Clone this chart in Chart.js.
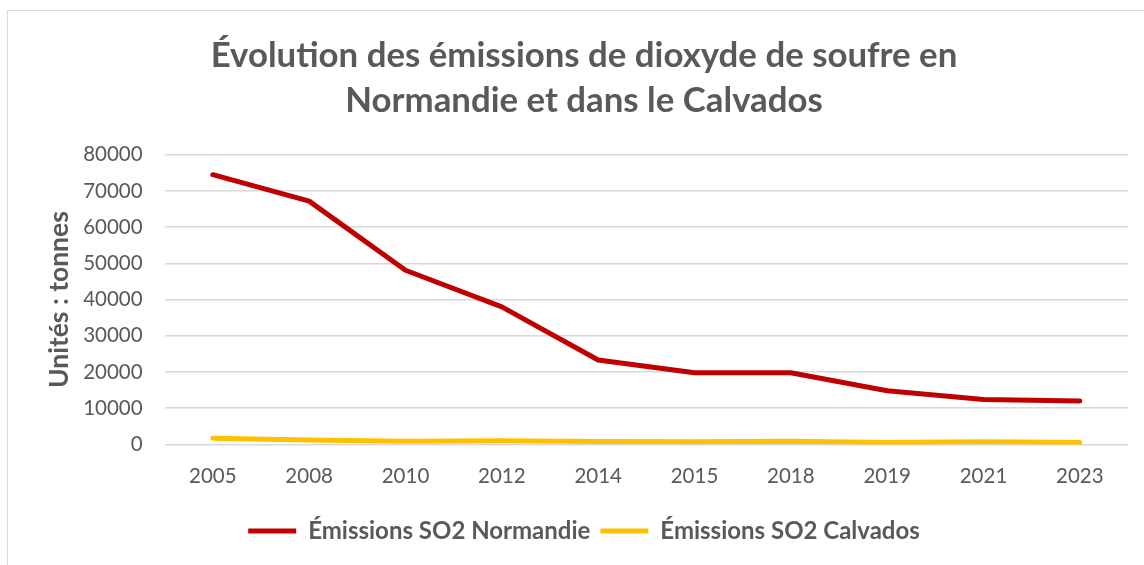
<!DOCTYPE html>
<html>
<head>
<meta charset="utf-8">
<script src="https://cdn.jsdelivr.net/npm/chart.js@4/dist/chart.umd.min.js"></script>
<style>
  html, body { margin: 0; padding: 0; background: #fff; }
  #wrap { position: relative; width: 1144px; height: 565px; overflow: hidden; }
  #frame { position: absolute; left: 7px; top: 10px; width: 1200px; height: 600px; border: 1.5px solid #d9d9d9; box-sizing: border-box; }
  #wrap canvas { position: absolute; left: 0; top: 0; }
</style>
</head>
<body>
<div id="wrap">
  <div id="frame"></div>
  <canvas id="chart" width="1144" height="565"></canvas>
</div>
<script>
// années
var years = ["2005", "2008", "2010", "2012", "2014", "2015", "2018", "2019", "2021", "2023"];
// émissions en tonnes
var normandie = [74500, 67200, 48100, 38000, 23300, 19800, 19800, 14800, 12400, 12000];
var calvados = [1700, 1200, 900, 1000, 800, 700, 900, 500, 700, 500];
var yTicks = [0, 10000, 20000, 30000, 40000, 50000, 60000, 70000, 80000];

var grey = "#595959";
var fam = "Lato, 'Open Sans', sans-serif";

var ctx = document.getElementById("chart");
var chart = new Chart(ctx, {
    type: "line",
    data: {
        labels: years,
        datasets: [
            {
                label: "Émissions SO2 Normandie",
                data: normandie,
                borderColor: "#c00000",
                backgroundColor: "#c00000",
                borderWidth: 5,
                borderCapStyle: "round",
                borderJoinStyle: "round",
                pointRadius: 0,
                pointStyle: "line",
                tension: 0
            },
            {
                label: "Émissions SO2 Calvados",
                data: calvados,
                borderColor: "#ffc000",
                backgroundColor: "#ffc000",
                borderWidth: 5,
                borderCapStyle: "round",
                borderJoinStyle: "round",
                pointRadius: 0,
                pointStyle: "line",
                tension: 0
            }
        ]
    },
    options: {
        responsive: false,
        animation: false,
        layout: { padding: { top: 23, left: 40, right: 16, bottom: 12 } },
        plugins: {
            title: {
                display: true,
                text: ["Évolution des émissions de dioxyde de soufre en", "Normandie et dans le Calvados"],
                color: grey,
                font: { family: fam, size: 34.8, weight: "bold", lineHeight: 1.29 },
                padding: { top: 10, bottom: 32 }
            },
            legend: {
                position: "bottom",
                labels: {
                    usePointStyle: true,
                    pointStyleWidth: 48,
                    color: grey,
                    font: { family: fam, size: 24, weight: "bold", lineHeight: 1 },
                    padding: 10
                }
            },
            tooltip: { enabled: false }
        },
        scales: {
            x: {
                offset: true,
                grid: { display: false, drawTicks: false },
                border: { display: false },
                ticks: {
                    color: grey,
                    font: { family: fam, size: 20.5 },
                    padding: 20,
                    maxRotation: 0
                }
            },
            y: {
                min: 0,
                max: 80000,
                afterBuildTicks: function (axis) {
                    axis.ticks = yTicks.map(function (v) { return { value: v }; });
                },
                grid: { color: "#d9d9d9", lineWidth: 1.5, drawTicks: false },
                border: { display: false },
                ticks: {
                    color: grey,
                    font: { family: fam, size: 20.5 },
                    padding: 22,
                    callback: function (v) { return String(v); }
                },
                title: {
                    display: true,
                    text: "Unités : tonnes",
                    color: grey,
                    font: { family: fam, size: 26.5, weight: "bold" },
                    padding: { top: 4, bottom: -14.6 }
                }
            }
        }
    }
});
</script>
</body>
</html>
